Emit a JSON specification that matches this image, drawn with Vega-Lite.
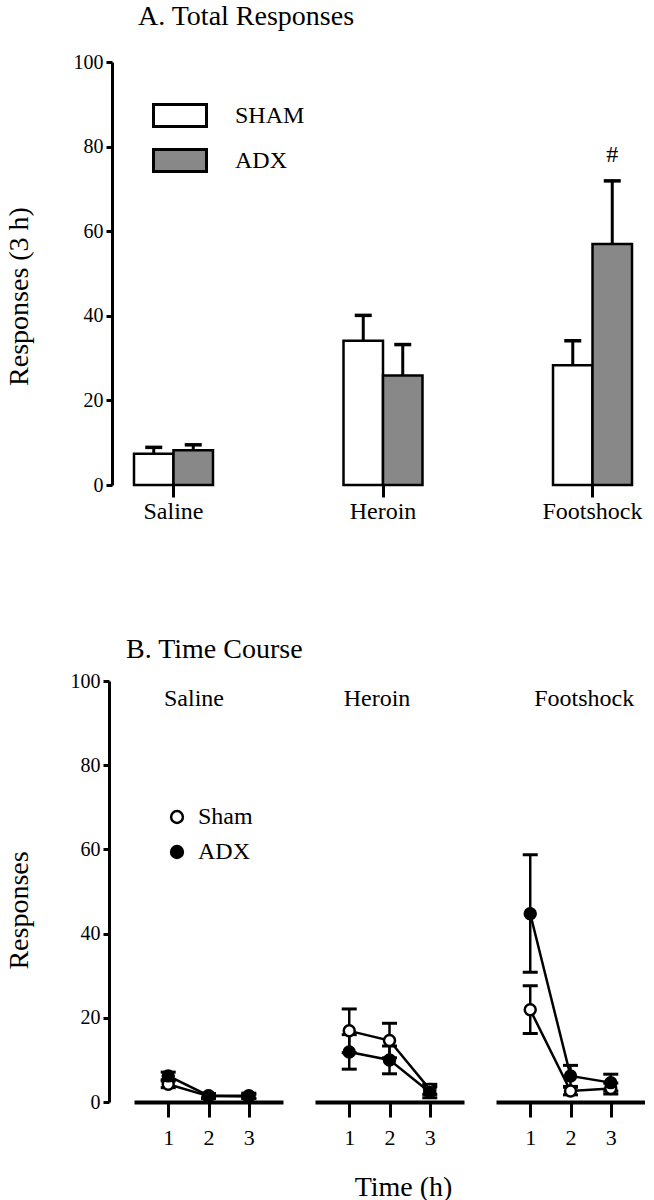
{
  "$schema": "https://vega.github.io/schema/vega-lite/v6.json",
  "background": "white",
  "padding": {"left": 5, "top": 3, "right": 0, "bottom": 0},
  "datasets": {
    "totals": [
      {"cond": "Saline", "grp": "SHAM", "mean": 7.4, "hi": 8.9},
      {"cond": "Saline", "grp": "ADX", "mean": 8.2, "hi": 9.5},
      {"cond": "Heroin", "grp": "SHAM", "mean": 34.1, "hi": 40.1},
      {"cond": "Heroin", "grp": "ADX", "mean": 25.9, "hi": 33.2},
      {"cond": "Footshock", "grp": "SHAM", "mean": 28.3, "hi": 34.1},
      {"cond": "Footshock", "grp": "ADX", "mean": 57.0, "hi": 71.9, "note": "#"}
    ],
    "course": [
      {"cond": "Saline", "grp": "Sham", "time": 1, "mean": 4.2, "lo": 3.4, "hi": 5.0},
      {"cond": "Saline", "grp": "Sham", "time": 2, "mean": 1.4, "lo": 0.8, "hi": 2.0},
      {"cond": "Saline", "grp": "Sham", "time": 3, "mean": 1.3, "lo": 0.8, "hi": 1.8},
      {"cond": "Saline", "grp": "ADX", "time": 1, "mean": 6.2, "lo": 5.3, "hi": 7.1},
      {"cond": "Saline", "grp": "ADX", "time": 2, "mean": 1.5, "lo": 1.0, "hi": 2.0},
      {"cond": "Saline", "grp": "ADX", "time": 3, "mean": 1.5, "lo": 0.9, "hi": 2.1},
      {"cond": "Heroin", "grp": "Sham", "time": 1, "mean": 16.9, "lo": 11.7, "hi": 22.1},
      {"cond": "Heroin", "grp": "Sham", "time": 2, "mean": 14.6, "lo": 10.5, "hi": 18.7},
      {"cond": "Heroin", "grp": "Sham", "time": 3, "mean": 3.0, "lo": 1.8, "hi": 4.2},
      {"cond": "Heroin", "grp": "ADX", "time": 1, "mean": 11.9, "lo": 7.8, "hi": 16.0},
      {"cond": "Heroin", "grp": "ADX", "time": 2, "mean": 10.0, "lo": 6.7, "hi": 13.3},
      {"cond": "Heroin", "grp": "ADX", "time": 3, "mean": 2.3, "lo": 1.0, "hi": 3.6},
      {"cond": "Footshock", "grp": "Sham", "time": 1, "mean": 21.9, "lo": 16.3, "hi": 27.6},
      {"cond": "Footshock", "grp": "Sham", "time": 2, "mean": 2.6, "lo": 1.7, "hi": 3.5},
      {"cond": "Footshock", "grp": "Sham", "time": 3, "mean": 3.2, "lo": 1.9, "hi": 4.5},
      {"cond": "Footshock", "grp": "ADX", "time": 1, "mean": 44.7, "lo": 30.8, "hi": 58.7},
      {"cond": "Footshock", "grp": "ADX", "time": 2, "mean": 6.2, "lo": 3.7, "hi": 8.7},
      {"cond": "Footshock", "grp": "ADX", "time": 3, "mean": 4.6, "lo": 2.6, "hi": 6.6}
    ]
  },
  "spacing": 196,
  "bounds": "flush",
  "resolve": {
    "scale": {"fill": "independent", "x": "independent", "y": "independent"},
    "legend": {"fill": "independent"}
  },
  "vconcat": [
    {
      "width": 498,
      "height": 423,
      "title": {"text": "A. Total Responses", "anchor": "start", "frame": "group", "dx": 4, "offset": 21},
      "data": {"name": "totals"},
      "encoding": {
        "x": {
          "field": "cond", "type": "nominal", "sort": ["Saline", "Heroin", "Footshock"],
          "scale": {"paddingInner": 0.623, "paddingOuter": 0},
          "axis": {"title": null, "domain": false, "tickSize": 12, "tickWidth": 3, "labelFontSize": 24, "labelPadding": 2, "labelAngle": 0}
        },
        "xOffset": {"field": "grp", "type": "nominal", "sort": ["SHAM", "ADX"], "scale": {"paddingInner": 0, "paddingOuter": 0}}
      },
      "layer": [
        {
          "mark": {"type": "rule", "color": "black", "strokeWidth": 3},
          "encoding": {"y": {"field": "mean", "type": "quantitative"}, "y2": {"field": "hi"}}
        },
        {
          "mark": {"type": "tick", "orient": "horizontal", "color": "black", "size": 17, "thickness": 3.5, "opacity": 1},
          "encoding": {"y": {"field": "hi", "type": "quantitative"}}
        },
        {
          "mark": {"type": "bar", "stroke": "black", "strokeWidth": 2.5, "opacity": 1},
          "encoding": {
            "y": {
              "field": "mean", "type": "quantitative", "scale": {"domain": [0, 100], "nice": false},
              "axis": {
                "title": "Responses (3 h)", "titleFontSize": 28, "titleX": -93, "titleY": 234, "titleAngle": -90,
                "titleAlign": "center", "titleBaseline": "middle", "offset": 22, "values": [0, 20, 40, 60, 80, 100],
                "domainWidth": 3, "tickWidth": 3, "tickSize": 6, "labelFontSize": 20, "labelPadding": 3
              }
            },
            "fill": {
              "field": "grp", "type": "nominal", "scale": {"domain": ["SHAM", "ADX"], "range": ["white", "#888888"]},
              "legend": {
                "orient": "none", "legendX": 18, "legendY": 25.5, "title": null, "padding": 0,
                "symbolType": "M-1,-0.415H1V0.415H-1Z", "symbolSize": 2809, "symbolStrokeColor": "black",
                "symbolStrokeWidth": 3, "symbolOpacity": 1, "labelFontSize": 24, "labelOffset": 27, "rowPadding": -4
              }
            }
          }
        },
        {
          "transform": [{"filter": "datum.note"}],
          "mark": {"type": "text", "fontSize": 24, "color": "black", "baseline": "middle"},
          "encoding": {"y": {"datum": 78}, "text": {"field": "note"}}
        }
      ]
    },
    {
      "title": {"text": "B. Time Course", "anchor": "start", "frame": "group", "dx": -8, "offset": 7},
      "spacing": 32,
      "bounds": "flush",
      "resolve": {"legend": {"fill": "independent"}},
      "hconcat": [
        {
          "width": 149, "height": 421,
          "data": {"name": "course"},
          "encoding": {
            "x": {"field": "time", "type": "quantitative", "scale": {"domain": [0.15, 3.85], "nice": false, "zero": false},
              "axis": {"title": null, "values": [1, 2, 3], "format": "d", "domainWidth": 4, "tickWidth": 3, "tickSize": 15, "labelFontSize": 22, "labelPadding": 10}}
          },
          "layer": [
            {
              "transform": [{"filter": "datum.cond === 'Saline'"}],
              "mark": {"type": "rule", "color": "black", "strokeWidth": 2.5},
              "encoding": {
                "y": {"field": "lo", "type": "quantitative", "scale": {"domain": [0, 100], "nice": false},
                  "axis": {"title": "Responses", "titleFontSize": 28, "titleX": -90, "titleY": 229, "titleAngle": -90,
                    "titleAlign": "center", "titleBaseline": "middle", "offset": 25, "values": [0, 20, 40, 60, 80, 100],
                    "domainWidth": 3, "tickWidth": 3, "tickSize": 6, "labelFontSize": 20, "labelPadding": 3}},
                "y2": {"field": "hi"}
              }
            },
            {"transform": [{"filter": "datum.cond === 'Saline'"}], "mark": {"type": "tick", "orient": "horizontal", "color": "black", "size": 15, "thickness": 3, "opacity": 1}, "encoding": {"y": {"field": "lo", "type": "quantitative"}}},
            {"transform": [{"filter": "datum.cond === 'Saline'"}], "mark": {"type": "tick", "orient": "horizontal", "color": "black", "size": 15, "thickness": 3, "opacity": 1}, "encoding": {"y": {"field": "hi", "type": "quantitative"}}},
            {"transform": [{"filter": "datum.cond === 'Saline'"}], "mark": {"type": "line", "color": "black", "strokeWidth": 2.5}, "encoding": {"y": {"field": "mean", "type": "quantitative"}, "detail": {"field": "grp"}}},
            {
              "transform": [{"filter": "datum.cond === 'Saline'"}],
              "mark": {"type": "point", "shape": "circle", "size": 120, "filled": true, "opacity": 1, "stroke": "black", "strokeWidth": 2.5},
              "encoding": {
                "y": {"field": "mean", "type": "quantitative"},
                "fill": {"field": "grp", "type": "nominal", "scale": {"domain": ["Sham", "ADX"], "range": ["white", "black"]},
                  "legend": {"orient": "none", "legendX": 31, "legendY": 124, "title": null, "padding": 0, "symbolType": "circle",
                    "symbolSize": 140, "symbolStrokeColor": "black", "symbolStrokeWidth": 2.5, "symbolOpacity": 1,
                    "labelFontSize": 24, "labelOffset": 9, "rowPadding": 11}}
              }
            },
            {
              "transform": [{"filter": "datum.cond === 'Saline' && datum.grp === 'Sham' && datum.time === 1"}],
              "mark": {"type": "text", "text": "Saline", "fontSize": 24, "color": "black", "baseline": "middle", "align": "center"},
              "encoding": {"x": {"datum": 1.64}, "y": {"datum": 95.7}}
            }
          ]
        },
        {
          "width": 149, "height": 421,
          "data": {"name": "course"},
          "encoding": {
            "x": {"field": "time", "type": "quantitative", "scale": {"domain": [0.15, 3.85], "nice": false, "zero": false},
              "axis": {"title": "Time (h)", "titleFontSize": 28, "titleX": 88, "titleY": 85, "titleAlign": "center", "titleBaseline": "middle",
                "values": [1, 2, 3], "format": "d", "domainWidth": 4, "tickWidth": 3, "tickSize": 15, "labelFontSize": 22, "labelPadding": 10}}
          },
          "layer": [
            {"transform": [{"filter": "datum.cond === 'Heroin'"}], "mark": {"type": "rule", "color": "black", "strokeWidth": 2.5}, "encoding": {"y": {"field": "lo", "type": "quantitative", "scale": {"domain": [0, 100], "nice": false}, "axis": null}, "y2": {"field": "hi"}}},
            {"transform": [{"filter": "datum.cond === 'Heroin'"}], "mark": {"type": "tick", "orient": "horizontal", "color": "black", "size": 15, "thickness": 3, "opacity": 1}, "encoding": {"y": {"field": "lo", "type": "quantitative", "axis": null}}},
            {"transform": [{"filter": "datum.cond === 'Heroin'"}], "mark": {"type": "tick", "orient": "horizontal", "color": "black", "size": 15, "thickness": 3, "opacity": 1}, "encoding": {"y": {"field": "hi", "type": "quantitative", "axis": null}}},
            {"transform": [{"filter": "datum.cond === 'Heroin'"}], "mark": {"type": "line", "color": "black", "strokeWidth": 2.5}, "encoding": {"y": {"field": "mean", "type": "quantitative", "axis": null}, "detail": {"field": "grp"}}},
            {
              "transform": [{"filter": "datum.cond === 'Heroin'"}],
              "mark": {"type": "point", "shape": "circle", "size": 120, "filled": true, "opacity": 1, "stroke": "black", "strokeWidth": 2.5},
              "encoding": {
                "y": {"field": "mean", "type": "quantitative", "axis": null},
                "fill": {"field": "grp", "type": "nominal", "scale": {"domain": ["Sham", "ADX"], "range": ["white", "black"]}, "legend": null}
              }
            },
            {
              "transform": [{"filter": "datum.cond === 'Heroin' && datum.grp === 'Sham' && datum.time === 1"}],
              "mark": {"type": "text", "text": "Heroin", "fontSize": 24, "color": "black", "baseline": "middle", "align": "center"},
              "encoding": {"x": {"datum": 1.69}, "y": {"datum": 95.7}}
            }
          ]
        },
        {
          "width": 149, "height": 421,
          "data": {"name": "course"},
          "encoding": {
            "x": {"field": "time", "type": "quantitative", "scale": {"domain": [0.15, 3.85], "nice": false, "zero": false},
              "axis": {"title": null, "values": [1, 2, 3], "format": "d", "domainWidth": 4, "tickWidth": 3, "tickSize": 15, "labelFontSize": 22, "labelPadding": 10}}
          },
          "layer": [
            {"transform": [{"filter": "datum.cond === 'Footshock'"}], "mark": {"type": "rule", "color": "black", "strokeWidth": 2.5}, "encoding": {"y": {"field": "lo", "type": "quantitative", "scale": {"domain": [0, 100], "nice": false}, "axis": null}, "y2": {"field": "hi"}}},
            {"transform": [{"filter": "datum.cond === 'Footshock'"}], "mark": {"type": "tick", "orient": "horizontal", "color": "black", "size": 15, "thickness": 3, "opacity": 1}, "encoding": {"y": {"field": "lo", "type": "quantitative", "axis": null}}},
            {"transform": [{"filter": "datum.cond === 'Footshock'"}], "mark": {"type": "tick", "orient": "horizontal", "color": "black", "size": 15, "thickness": 3, "opacity": 1}, "encoding": {"y": {"field": "hi", "type": "quantitative", "axis": null}}},
            {"transform": [{"filter": "datum.cond === 'Footshock'"}], "mark": {"type": "line", "color": "black", "strokeWidth": 2.5}, "encoding": {"y": {"field": "mean", "type": "quantitative", "axis": null}, "detail": {"field": "grp"}}},
            {
              "transform": [{"filter": "datum.cond === 'Footshock'"}],
              "mark": {"type": "point", "shape": "circle", "size": 120, "filled": true, "opacity": 1, "stroke": "black", "strokeWidth": 2.5},
              "encoding": {
                "y": {"field": "mean", "type": "quantitative", "axis": null},
                "fill": {"field": "grp", "type": "nominal", "scale": {"domain": ["Sham", "ADX"], "range": ["white", "black"]}, "legend": null}
              }
            },
            {
              "transform": [{"filter": "datum.cond === 'Footshock' && datum.grp === 'Sham' && datum.time === 1"}],
              "mark": {"type": "text", "text": "Footshock", "fontSize": 24, "color": "black", "baseline": "middle", "align": "center"},
              "encoding": {"x": {"datum": 2.34}, "y": {"datum": 95.7}}
            }
          ]
        }
      ]
    }
  ],
  "config": {
    "font": "Liberation Serif",
    "view": {"stroke": null},
    "axis": {"grid": false, "domainColor": "black", "tickColor": "black", "labelColor": "black", "titleColor": "black",
      "titleFontWeight": "normal", "labelFont": "Liberation Serif", "titleFont": "Liberation Serif"},
    "title": {"font": "Liberation Serif", "fontWeight": "normal", "color": "black", "fontSize": 28},
    "legend": {"labelFont": "Liberation Serif", "labelColor": "black"},
    "text": {"font": "Liberation Serif"}
  }
}
